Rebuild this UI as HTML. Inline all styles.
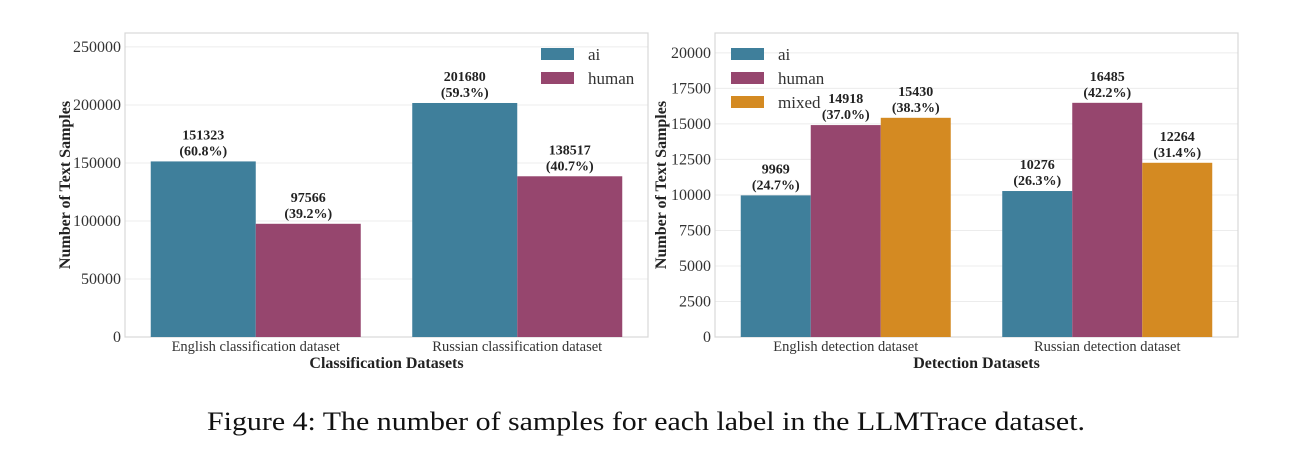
<!DOCTYPE html>
<html><head><meta charset="utf-8"><style>
html,body{margin:0;padding:0;background:#fff}
svg{display:block;font-family:"Liberation Serif",serif}
</style></head><body>
<svg id="fig" width="1293" height="468" viewBox="0 0 1293 468">
<text x="646" y="430" font-size="26" text-anchor="middle" textLength="878" lengthAdjust="spacingAndGlyphs" fill="#111">Figure 4: The number of samples for each label in the LLMTrace dataset.</text>
</svg>
<script>
// Left chart data
const leftCategories = ["English classification dataset","Russian classification dataset"];
const leftSeries = ["ai","human"];
const leftAi = [151323, 201680];
const leftHuman = [97566, 138517];
const leftAiPct = ["60.8%","59.3%"];
const leftHumanPct = ["39.2%","40.7%"];
const leftTicks = [0,50000,100000,150000,200000,250000];
// Right chart data
const rightCategories = ["English detection dataset","Russian detection dataset"];
const rightSeries = ["ai","human","mixed"];
const rightAi = [9969, 10276];
const rightHuman = [14918, 16485];
const rightMixed = [15430, 12264];
const rightAiPct = ["24.7%","26.3%"];
const rightHumanPct = ["37.0%","42.2%"];
const rightMixedPct = ["38.3%","31.4%"];
const rightTicks = [0,2500,5000,7500,10000,12500,15000,17500,20000];

const NS="http://www.w3.org/2000/svg";
const svg=document.getElementById('fig');
const COLORS={ai:"#3f7f9b",human:"#96466e",mixed:"#d48a22"};
function el(tag,attrs,parent){const e=document.createElementNS(NS,tag);for(const k in attrs)e.setAttribute(k,attrs[k]);(parent||svg).appendChild(e);return e;}

function chart(o){
  const g=el('g',{});
  
  
  const x0=o.x0,x1=o.x1,yTop=33,yBot=337;
  const y=v=>yBot-(v/o.ymax)*(yBot-yTop);
  o.ticks.forEach(t=>{
    const yy=y(t);
    if(t>0){const gl=el('line',{x1:x0,x2:x1,y1:yy,y2:yy,stroke:"#ececec","stroke-width":1},g);
      
      }
    const tx=el('text',{x:x0-4,y:yy+5,"font-size":16,"text-anchor":"end",fill:"#333"},g);
    tx.textContent=t;
    
    
  });
  const fr=el('rect',{x:x0,y:yTop,width:x1-x0,height:yBot-yTop,fill:"none",stroke:"#d8d8d8","stroke-width":1.2},g);
  
  
  const n=o.cats.length, step=(x1-x0)/n, ns=o.series.length, bw=o.bw;
  o.cats.forEach((c,i)=>{
    const cx=x0+step*(i+0.5);
    o.series.forEach((s,j)=>{
      const v=o.values[j][i];
      const bx=cx-ns*bw/2+j*bw;
      const r=el('rect',{x:bx,y:y(v),width:bw,height:yBot-y(v),fill:COLORS[s]},g);
      
      
      const t=el('text',{x:bx+bw/2,y:y(v)-22,"font-size":14,"font-weight":"bold","text-anchor":"middle",fill:"#222"},g);
      t.textContent=v;
      
      
      const p=el('text',{x:bx+bw/2,y:y(v)-6,"font-size":14,"font-weight":"bold","text-anchor":"middle",fill:"#222"},g);
      p.textContent="("+o.pcts[j][i]+")";
      
      
    });
    const ct=el('text',{x:cx,y:351,"font-size":14.5,"text-anchor":"middle",fill:"#333"},g);
    ct.textContent=c;
    
    
  });
  const xt=el('text',{x:(x0+x1)/2,y:368,"font-size":16,"font-weight":"bold","text-anchor":"middle",fill:"#222"},g);
  xt.textContent=o.xtitle;
  
  
  const yt=el('text',{x:0,y:0,"font-size":16,"font-weight":"bold","text-anchor":"middle",fill:"#222",transform:`translate(${o.ytx},${(yTop+yBot)/2}) rotate(-90)`},g);
  yt.textContent="Number of Text Samples";
  
  
  o.series.forEach((s,j)=>{
    const ly=48+j*24;
    const lr=el('rect',{x:o.lx,y:ly,width:33,height:12,fill:COLORS[s]},g);
    
    
    const lt=el('text',{x:o.lx+47,y:ly+12,"font-size":17,fill:"#333"},g);
    lt.textContent=s;
    
    
  });
}
chart({name:"classification-chart",x0:125,x1:648,ymax:262000,ticks:leftTicks,cats:leftCategories,series:leftSeries,
  values:[leftAi,leftHuman],pcts:[leftAiPct,leftHumanPct],bw:105,xtitle:"Classification Datasets",ytx:70,lx:541});
chart({name:"detection-chart",x0:715,x1:1238,ymax:21400,ticks:rightTicks,cats:rightCategories,series:rightSeries,
  values:[rightAi,rightHuman,rightMixed],pcts:[rightAiPct,rightHumanPct,rightMixedPct],bw:70,xtitle:"Detection Datasets",ytx:666,lx:731});
</script>
</body></html>
